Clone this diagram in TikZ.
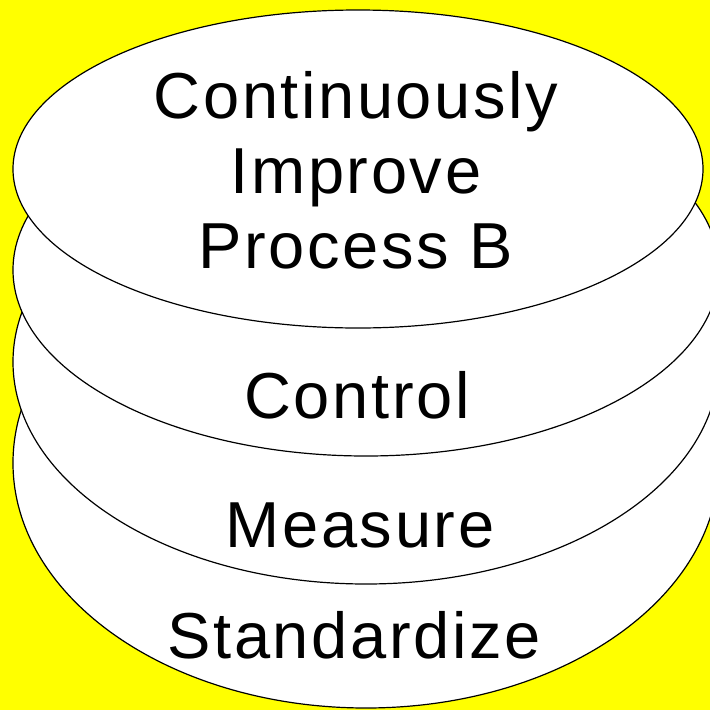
\documentclass[tikz,border=0pt]{standalone}
\usepackage{fontspec}
\newfontfamily\layerfont{Liberation Sans}[LetterSpace=4]
\definecolor{backyellow}{RGB}{255,255,0}

\begin{document}
\begin{tikzpicture}[x=1pt, y=-1pt,
    layer/.style={draw=black, fill=white, line width=1.2pt},
    layertext/.style={anchor=base, align=center, font=\layerfont\fontsize{65}{75}\selectfont}]
    \fill[backyellow] (0,0) rectangle (710,710);
    \useasboundingbox (0,0) rectangle (710,710);

    % layers, from the bottom up
    \path[layer] (366,463) ellipse [x radius=353, y radius=245];
    \path[layer] (366,362) ellipse [x radius=353, y radius=222];
    \path[layer] (366,270) ellipse [x radius=353, y radius=186];
    \path[layer] (358,169) ellipse [x radius=345, y radius=159];

    % texts
    \node (standardize) at (354,658) [layertext] {Standardize};
    \node (measure) at (360,547) [layertext] {Measure};
    \node (control) at (357,418) [layertext] {Control};
    \node (improve) at (356,268) [layertext] {Continuously\\Improve\\Process B};
\end{tikzpicture}
\end{document}
